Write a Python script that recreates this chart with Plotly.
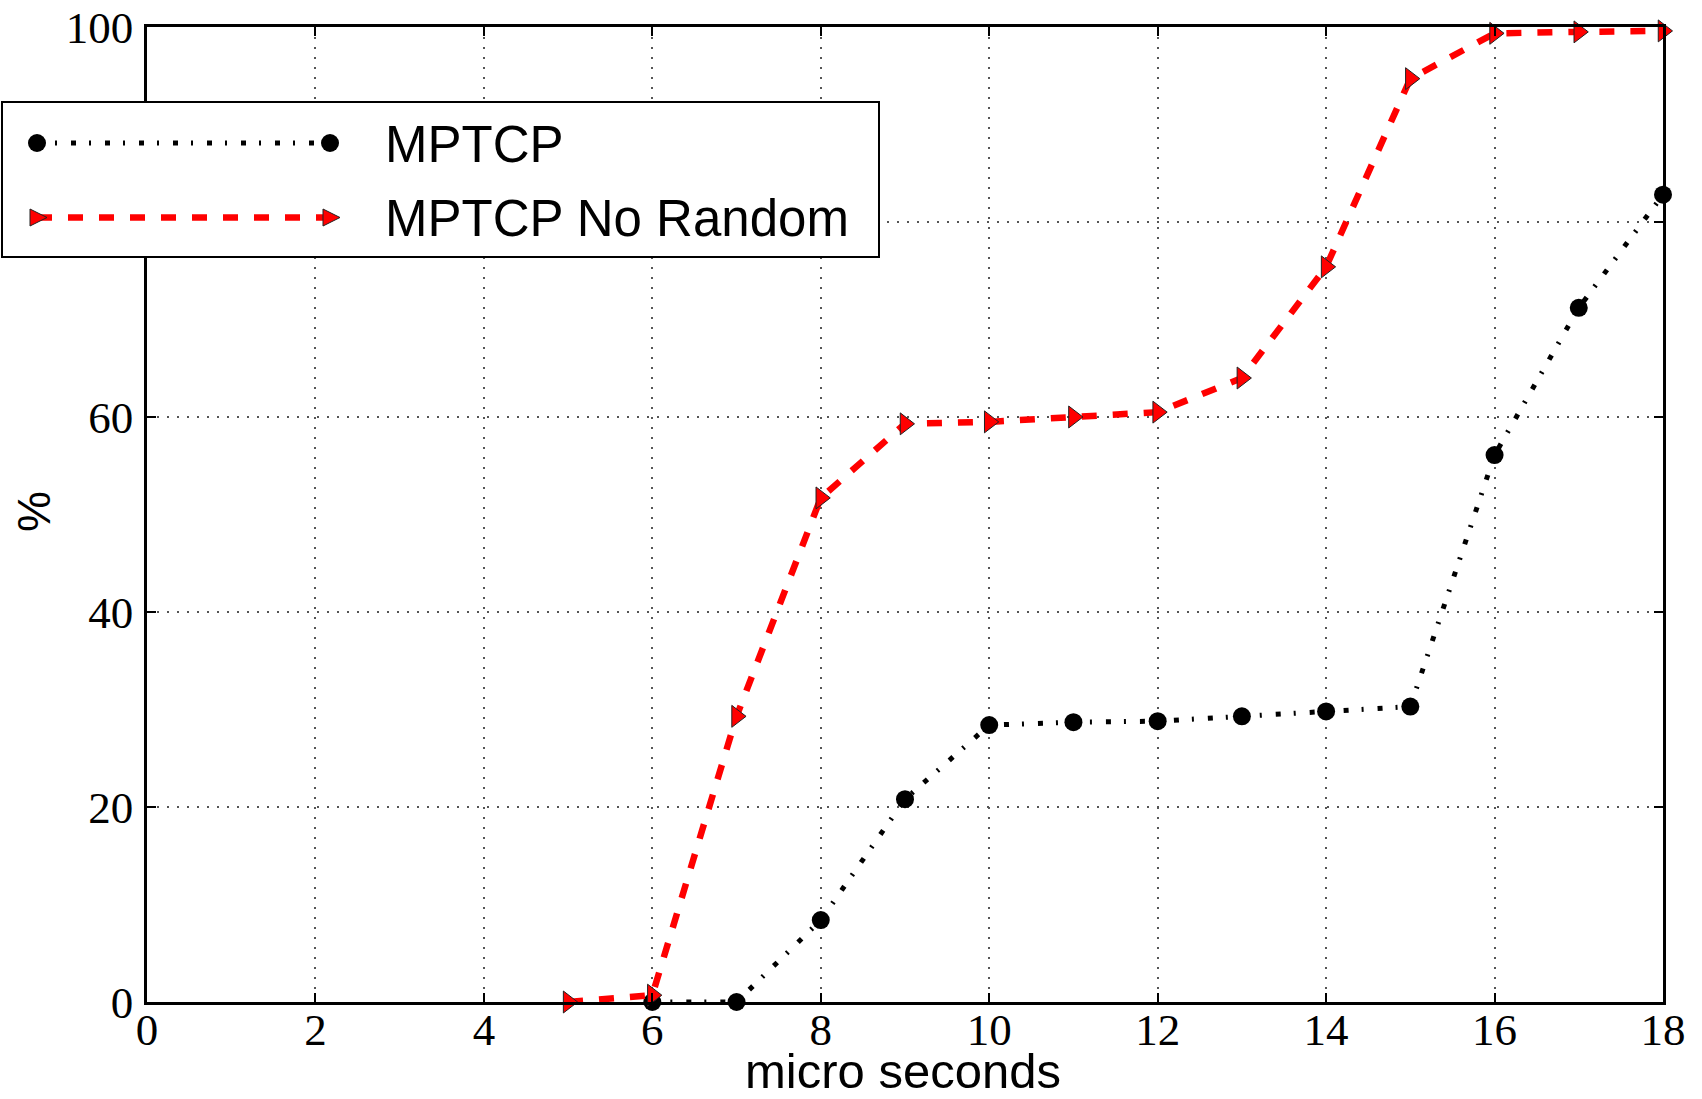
import plotly.graph_objects as go

# ---- data ----
x_mptcp = [6, 7, 8, 9, 10, 11, 12, 13, 14, 15, 16, 17, 18]
y_mptcp = [0.0, 0.0, 8.4, 20.8, 28.4, 28.7, 28.8, 29.3, 29.8, 30.3, 56.1, 71.2, 82.8]

x_norand = [5, 6, 7, 8, 9, 10, 11, 12, 13, 14, 15, 16, 17, 18]
y_norand = [0.0, 0.7, 29.3, 51.7, 59.3, 59.5, 60.0, 60.5, 64.0, 75.4, 94.7, 99.35, 99.5, 99.6]

x_ticks = [0, 2, 4, 6, 8, 10, 12, 14, 16, 18]
y_ticks = [0, 20, 40, 60, 80, 100]

series_names = ["MPTCP", "MPTCP No Random"]
x_title = "micro seconds"
y_title = "%"

# ---- layout geometry (page pixels) ----
W, H = 1702, 1099
PLOT_L, PLOT_R, PLOT_T, PLOT_B = 147, 1663, 27, 1002
PW = PLOT_R - PLOT_L
PH = PLOT_B - PLOT_T
ML, MT = PLOT_L, PLOT_T
MR = W - PLOT_R
MB = H - PLOT_B


def px(x):
    return (x - PLOT_L) / PW


def py(y):
    return 1 - (y - PLOT_T) / PH


BLACK_DASH = "5px,13px,2px,14px"
RED_DASH = "15px,16px"
TICK_FONT = dict(family="Liberation Serif", size=45, color="black")
SANS = "Liberation Sans"

fig = go.Figure()
fig.add_trace(go.Scatter(
    x=x_mptcp, y=y_mptcp, name=series_names[0], mode="lines+markers",
    line=dict(color="black", width=5, dash=BLACK_DASH),
    marker=dict(symbol="circle", size=18, color="black"),
    showlegend=False, cliponaxis=False))
fig.add_trace(go.Scatter(
    x=x_norand, y=y_norand, name=series_names[1], mode="lines+markers",
    line=dict(color="red", width=6.5, dash=RED_DASH),
    marker=dict(symbol="triangle-right", size=19, color="red",
                line=dict(color="#222222", width=1)),
    showlegend=False, cliponaxis=False))

axis_common = dict(
    showline=True, linecolor="black", linewidth=2.5, mirror="ticks",
    ticks="inside", ticklen=9, tickwidth=1.5, tickcolor="black",
    showgrid=True, gridcolor="#555555", gridwidth=1.5, griddash="2px,8px",
    zeroline=False, tickfont=TICK_FONT, ticklabeloverflow="allow",
)
fig.update_xaxes(range=[0, 18], tickvals=x_ticks, ticklabelstandoff=-14, **axis_common)
fig.update_yaxes(range=[0, 100], tickvals=y_ticks, ticklabelstandoff=2, **axis_common)

# ---- custom legend (matplotlib-style, long sample lines) ----
row1, row2 = 143, 217.5
lx0, lx1 = 37, 330
shapes = [
    dict(type="rect", xref="paper", yref="paper", layer="above",
         x0=px(2), x1=px(879), y0=py(257), y1=py(102),
         line=dict(color="black", width=2), fillcolor="white"),
    dict(type="line", xref="paper", yref="paper", layer="above",
         x0=px(lx0), x1=px(lx1), y0=py(row1), y1=py(row1),
         line=dict(color="black", width=5, dash=BLACK_DASH)),
    dict(type="line", xref="paper", yref="paper", layer="above",
         x0=px(lx0), x1=px(lx1), y0=py(row2), y1=py(row2),
         line=dict(color="red", width=6.5, dash=RED_DASH)),
]
for cx in (lx0, lx1):
    shapes.append(dict(type="circle", xref="paper", yref="paper", layer="above",
                       xsizemode="pixel", ysizemode="pixel",
                       xanchor=px(cx), yanchor=py(row1),
                       x0=-9, x1=9, y0=-9, y1=9,
                       fillcolor="black", line=dict(color="black", width=0)))
    shapes.append(dict(type="path", xref="paper", yref="paper", layer="above",
                       xsizemode="pixel", ysizemode="pixel",
                       xanchor=px(cx), yanchor=py(row2),
                       path="M-7,-8.5 L10,0 L-7,8.5 Z",
                       fillcolor="red", line=dict(color="#222222", width=1)))

annotations = [
    dict(text=series_names[0], xref="paper", yref="paper", x=px(383), y=py(row1 + 1),
         xanchor="left", yanchor="middle", showarrow=False,
         font=dict(family=SANS, size=51, color="black")),
    dict(text=series_names[1], xref="paper", yref="paper", x=px(383), y=py(row2 + 1),
         xanchor="left", yanchor="middle", showarrow=False,
         font=dict(family=SANS, size=51, color="black")),
    dict(text=x_title, xref="paper", yref="paper", x=px(903), y=py(1099),
         xanchor="center", yanchor="bottom", showarrow=False, borderpad=0,
         font=dict(family=SANS, size=49, color="black")),
    dict(text=y_title, xref="paper", yref="paper", x=px(34), y=py(512),
         xanchor="center", yanchor="middle", showarrow=False, textangle=-90,
         font=dict(family=SANS, size=46, color="black")),
]

fig.update_layout(
    width=W, height=H,
    margin=dict(l=ML, r=MR, t=MT, b=MB, autoexpand=False),
    paper_bgcolor="white", plot_bgcolor="white",
    showlegend=False,
    shapes=shapes, annotations=annotations,
)

fig.write_html("out.html", config={"displayModeBar": False},
               post_script="document.body.style.margin='0';")
